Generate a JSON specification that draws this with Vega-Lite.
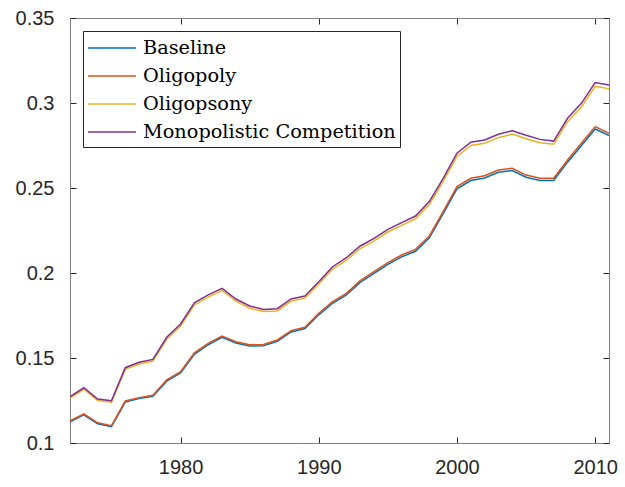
{
  "$schema": "https://vega.github.io/schema/vega-lite/v6.json",
  "width": 539,
  "height": 425,
  "autosize": {"type": "none"},
  "padding": {"left": 70, "top": 18, "right": 16, "bottom": 44},
  "background": "white",
  "data": {"values": [
    {"year":1972,"Baseline":0.1125,"Oligopoly":0.1131,"Oligopsony":0.1264,"Monopolistic Competition":0.1273},
    {"year":1973,"Baseline":0.1166,"Oligopoly":0.1172,"Oligopsony":0.1316,"Monopolistic Competition":0.1325},
    {"year":1974,"Baseline":0.1113,"Oligopoly":0.1119,"Oligopsony":0.1250,"Monopolistic Competition":0.1259},
    {"year":1975,"Baseline":0.1096,"Oligopoly":0.1102,"Oligopsony":0.1240,"Monopolistic Competition":0.1249},
    {"year":1976,"Baseline":0.1241,"Oligopoly":0.1247,"Oligopsony":0.1433,"Monopolistic Competition":0.1443},
    {"year":1977,"Baseline":0.1261,"Oligopoly":0.1267,"Oligopsony":0.1465,"Monopolistic Competition":0.1475},
    {"year":1978,"Baseline":0.1275,"Oligopoly":0.1281,"Oligopsony":0.1482,"Monopolistic Competition":0.1492},
    {"year":1979,"Baseline":0.1364,"Oligopoly":0.1371,"Oligopsony":0.1611,"Monopolistic Competition":0.1622},
    {"year":1980,"Baseline":0.1412,"Oligopoly":0.1419,"Oligopsony":0.1688,"Monopolistic Competition":0.1700},
    {"year":1981,"Baseline":0.1522,"Oligopoly":0.1530,"Oligopsony":0.1812,"Monopolistic Competition":0.1825},
    {"year":1982,"Baseline":0.1578,"Oligopoly":0.1586,"Oligopsony":0.1858,"Monopolistic Competition":0.1871},
    {"year":1983,"Baseline":0.1621,"Oligopoly":0.1629,"Oligopsony":0.1897,"Monopolistic Competition":0.1910},
    {"year":1984,"Baseline":0.1588,"Oligopoly":0.1596,"Oligopsony":0.1834,"Monopolistic Competition":0.1847},
    {"year":1985,"Baseline":0.1570,"Oligopoly":0.1578,"Oligopsony":0.1793,"Monopolistic Competition":0.1806},
    {"year":1986,"Baseline":0.1572,"Oligopoly":0.1580,"Oligopsony":0.1774,"Monopolistic Competition":0.1786},
    {"year":1987,"Baseline":0.1598,"Oligopoly":0.1606,"Oligopsony":0.1777,"Monopolistic Competition":0.1790},
    {"year":1988,"Baseline":0.1653,"Oligopoly":0.1661,"Oligopsony":0.1834,"Monopolistic Competition":0.1847},
    {"year":1989,"Baseline":0.1673,"Oligopoly":0.1681,"Oligopsony":0.1852,"Monopolistic Competition":0.1865},
    {"year":1990,"Baseline":0.1754,"Oligopoly":0.1763,"Oligopsony":0.1935,"Monopolistic Competition":0.1949},
    {"year":1991,"Baseline":0.1822,"Oligopoly":0.1831,"Oligopsony":0.2023,"Monopolistic Competition":0.2037},
    {"year":1992,"Baseline":0.1871,"Oligopoly":0.1880,"Oligopsony":0.2075,"Monopolistic Competition":0.2090},
    {"year":1993,"Baseline":0.1945,"Oligopoly":0.1955,"Oligopsony":0.2144,"Monopolistic Competition":0.2159},
    {"year":1994,"Baseline":0.1998,"Oligopoly":0.2008,"Oligopsony":0.2189,"Monopolistic Competition":0.2204},
    {"year":1995,"Baseline":0.2051,"Oligopoly":0.2061,"Oligopsony":0.2241,"Monopolistic Competition":0.2257},
    {"year":1996,"Baseline":0.2095,"Oligopoly":0.2106,"Oligopsony":0.2280,"Monopolistic Competition":0.2296},
    {"year":1997,"Baseline":0.2128,"Oligopoly":0.2139,"Oligopsony":0.2319,"Monopolistic Competition":0.2335},
    {"year":1998,"Baseline":0.2207,"Oligopoly":0.2218,"Oligopsony":0.2403,"Monopolistic Competition":0.2420},
    {"year":1999,"Baseline":0.2349,"Oligopoly":0.2361,"Oligopsony":0.2539,"Monopolistic Competition":0.2557},
    {"year":2000,"Baseline":0.2495,"Oligopoly":0.2508,"Oligopsony":0.2686,"Monopolistic Competition":0.2705},
    {"year":2001,"Baseline":0.2544,"Oligopoly":0.2557,"Oligopsony":0.2750,"Monopolistic Competition":0.2769},
    {"year":2002,"Baseline":0.2559,"Oligopoly":0.2572,"Oligopsony":0.2763,"Monopolistic Competition":0.2782},
    {"year":2003,"Baseline":0.2593,"Oligopoly":0.2606,"Oligopsony":0.2796,"Monopolistic Competition":0.2816},
    {"year":2004,"Baseline":0.2603,"Oligopoly":0.2616,"Oligopsony":0.2817,"Monopolistic Competition":0.2837},
    {"year":2005,"Baseline":0.2563,"Oligopoly":0.2576,"Oligopsony":0.2790,"Monopolistic Competition":0.2810},
    {"year":2006,"Baseline":0.2544,"Oligopoly":0.2557,"Oligopsony":0.2766,"Monopolistic Competition":0.2786},
    {"year":2007,"Baseline":0.2544,"Oligopoly":0.2557,"Oligopsony":0.2757,"Monopolistic Competition":0.2776},
    {"year":2008,"Baseline":0.2652,"Oligopoly":0.2665,"Oligopsony":0.2890,"Monopolistic Competition":0.2910},
    {"year":2009,"Baseline":0.2749,"Oligopoly":0.2763,"Oligopsony":0.2977,"Monopolistic Competition":0.2998},
    {"year":2010,"Baseline":0.2847,"Oligopoly":0.2861,"Oligopsony":0.3098,"Monopolistic Competition":0.3120},
    {"year":2011,"Baseline":0.2808,"Oligopoly":0.2822,"Oligopsony":0.3084,"Monopolistic Competition":0.3106}
  ]},
  "transform": [
    {"fold": ["Baseline", "Oligopoly", "Oligopsony", "Monopolistic Competition"], "as": ["series", "value"]}
  ],
  "layer": [
    {
      "mark": {"type": "line", "strokeWidth": 1.5, "clip": true},
      "encoding": {
        "x": {"field": "year", "type": "quantitative",
              "scale": {"domain": [1972, 2011], "nice": false, "zero": false},
              "axis": {"title": null, "orient": "bottom", "values": [1980, 1990, 2000, 2010], "format": "d",
                       "grid": false, "tickSize": -6, "labelPadding": 20}},
        "y": {"field": "value", "type": "quantitative",
              "scale": {"domain": [0.1, 0.35], "nice": false, "zero": false},
              "axis": {"title": null, "orient": "left", "values": [0.1, 0.15, 0.2, 0.25, 0.3, 0.35], "format": "~g",
                       "grid": false, "tickSize": -6, "labelPadding": 22}},
        "color": {"field": "series", "type": "nominal",
                  "scale": {"domain": ["Baseline", "Oligopoly", "Oligopsony", "Monopolistic Competition"],
                            "range": ["#0072BD", "#D95319", "#EDB120", "#7E2F8E"]},
                  "legend": {"title": null, "orient": "none", "legendX": 13, "legendY": 13,
                             "symbolType": "M-1,0H3", "symbolSize": 576, "symbolStrokeWidth": 1.5,
                             "labelFont": "DejaVu Serif", "labelFontSize": 19.3, "labelColor": "#000000",
                             "labelLimit": 400, "labelOffset": 30, "rowPadding": 4,
                             "strokeColor": "#262626", "fillColor": "white", "padding": 4}},
        "order": {"field": "year", "type": "quantitative"}
      }
    },
    {
      "mark": {"type": "line", "strokeOpacity": 0},
      "encoding": {
        "x": {"field": "year", "type": "quantitative",
              "scale": {"domain": [1972, 2011], "nice": false, "zero": false},
              "axis": {"title": null, "orient": "top", "values": [1980, 1990, 2000, 2010], "labels": false,
                       "grid": false, "tickSize": -6}},
        "y": {"field": "value", "type": "quantitative",
              "scale": {"domain": [0.1, 0.35], "nice": false, "zero": false},
              "axis": {"title": null, "orient": "right", "values": [0.1, 0.15, 0.2, 0.25, 0.3, 0.35], "labels": false,
                       "grid": false, "tickSize": -6}},
        "detail": {"field": "series"}
      }
    }
  ],
  "resolve": {"axis": {"x": "independent", "y": "independent"}},
  "config": {
    "view": {"stroke": "#808080", "strokeWidth": 1},
    "axis": {"labelFont": "Liberation Sans", "labelFontSize": 20, "labelColor": "#262626",
             "domainColor": "#808080", "domainWidth": 1, "tickColor": "#262626", "tickWidth": 1}
  }
}
